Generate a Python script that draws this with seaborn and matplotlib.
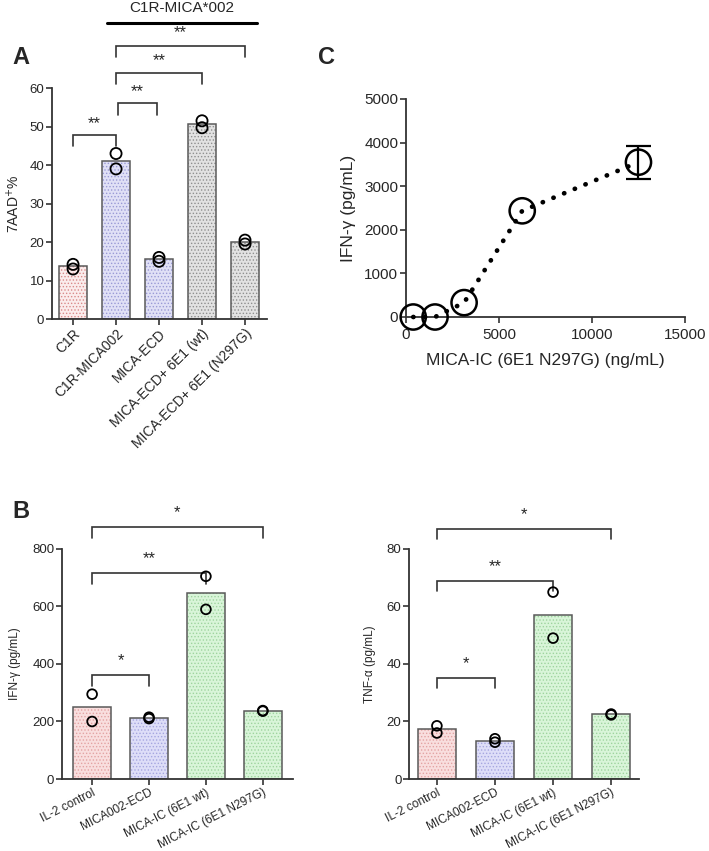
import matplotlib
matplotlib.use("Agg")
import matplotlib.pyplot as plt
import seaborn as sns
import pandas as pd
import numpy as np
from matplotlib.patches import Rectangle

sns.set_theme(style="ticks")
plt.rcParams['font.family'] = ['Liberation Sans', 'DejaVu Sans']
plt.rcParams['hatch.linewidth'] = 0.6

# ---------------- data ----------------
a_cats = ["C1R", "C1R-MICA002", "MICA-ECD", "MICA-ECD+ 6E1 (wt)", "MICA-ECD+ 6E1 (N297G)"]
a_means = [13.7, 41.0, 15.5, 50.6, 20.0]
a_pts1 = [13.0, 43.0, 15.0, 51.5, 19.5]
a_pts2 = [14.2, 39.0, 16.0, 49.7, 20.5]

b_cats = ["IL-2 control", "MICA002-ECD", "MICA-IC (6E1 wt)", "MICA-IC (6E1 N297G)"]
ifn_means = [250, 213, 648, 237]
ifn_pts1 = [295, 215, 705, 238]
ifn_pts2 = [200, 210, 590, 236]
tnf_means = [17.3, 13.3, 57.0, 22.5]
tnf_pts1 = [18.5, 14.0, 65.0, 22.6]
tnf_pts2 = [16.0, 12.8, 49.0, 22.3]

c_conc = [390.6, 1562.5, 3125, 6250, 12500]
c_ifn = [0, 0, 330, 2435, 3550]
c_err = [0, 0, 0, 0, 375]

a_face = ["#fbecec", "#e0e0f6", "#e0e0f6", "#e2e2e2", "#e2e2e2"]
a_hatch = ["#d98a8a", "#9a9ad6", "#9a9ad6", "#8f8f8f", "#8f8f8f"]
b_face = ["#f9dede", "#dedef8", "#d9f5d9", "#d9f5d9"]
b_hatch = ["#e3a3a3", "#a6a6e0", "#9fd49f", "#9fd49f"]

fig = plt.figure(figsize=(7.09, 8.51), dpi=100)


def style_bars(ax, faces, hatches):
    for p, fc, hc in zip(list(ax.patches), faces, hatches):
        p.set_facecolor(fc)
        p.set_edgecolor(hc)
        p.set_linewidth(0)
        p.set_hatch('.....')
        ax.add_patch(Rectangle((p.get_x(), p.get_y()), p.get_width(), p.get_height(),
                               fill=False, ec="#5a5a5a", lw=1.1, zorder=p.get_zorder() + 0.1))


def points(ax, cats, p1, p2, ms):
    df = pd.DataFrame({"cat": cats * 2, "v": p1 + p2})
    n0 = len(ax.collections)
    sns.stripplot(data=df, x="cat", y="v", order=cats, jitter=False, ax=ax,
                  size=ms, color="black", linewidth=1.3, edgecolor="black", zorder=5)
    for c in ax.collections[n0:]:
        c.set_facecolor("none")
        c.set_edgecolor("black")
        c.set_clip_on(False)


def bracket(ax, x1, x2, y, drop, text, tdy, fs=12):
    ax.plot([x1, x1, x2, x2], [y - drop, y, y, y - drop], color="#333333", lw=1.2,
            clip_on=False, solid_joinstyle="miter")
    ax.text((x1 + x2) / 2, y + tdy, text, ha="center", va="center", fontsize=fs, clip_on=False)


def axstyle(ax, fs):
    sns.despine(ax=ax)
    for s in ["left", "bottom"]:
        ax.spines[s].set_linewidth(1.3)
        ax.spines[s].set_color("#333333")
    ax.tick_params(axis="both", direction="out", length=4, width=1.2, color="#333333",
                   labelsize=fs, pad=1.5)
    ax.set_xlabel("")


# ---------------- Panel A ----------------
axA = fig.add_axes([0.0733, 0.6251, 0.3032, 0.2714])
dfa = pd.DataFrame({"cat": a_cats, "v": a_means})
sns.barplot(data=dfa, x="cat", y="v", order=a_cats, width=0.67, ax=axA, errorbar=None)
style_bars(axA, a_face, a_hatch)
points(axA, a_cats, a_pts1, a_pts2, 8)
axA.set_xlim(-0.49, 4.51)
axA.set_ylim(0, 60)
axA.set_yticks([0, 10, 20, 30, 40, 50, 60])
axstyle(axA, 9.5)
axA.set_ylabel("7AAD$^{+}$%", fontsize=10, labelpad=5)
axA.set_xticks(range(len(a_cats)))
axA.set_xticklabels(a_cats, rotation=45, ha="right", rotation_mode="anchor", fontsize=10)
bracket(axA, 0, 1, 47.8, 2.8, "**", 2.9)
bracket(axA, 1.05, 1.95, 56, 3, "**", 3.0)
bracket(axA, 1.0, 3.0, 64, 3, "**", 3.1)
bracket(axA, 1.0, 4.0, 71, 3, "**", 3.3)
axA.plot([0.79, 4.28], [77, 77], color="black", lw=2.2, clip_on=False)
axA.text(2.53, 80.8, "C1R-MICA*002", ha="center", va="center", fontsize=11, clip_on=False)

# ---------------- Panel C ----------------
axC = fig.add_axes([0.5726, 0.6275, 0.3935, 0.2562])
dfc = pd.DataFrame({"conc": c_conc, "ifn": c_ifn, "err": c_err})
sns.lineplot(data=dfc, x="conc", y="ifn", ax=axC, color="black", lw=3.4,
             linestyle=(0, (0.05, 2.4)), dash_capstyle="round", zorder=3)
axC.errorbar(dfc["conc"][dfc["err"] > 0], dfc["ifn"][dfc["err"] > 0],
             yerr=dfc["err"][dfc["err"] > 0], fmt="none", ecolor="black",
             elinewidth=1.6, capsize=9, capthick=1.6, zorder=4)
sns.scatterplot(data=dfc, x="conc", y="ifn", ax=axC, s=330, marker="o",
                facecolor="none", edgecolor="black", linewidth=1.8, zorder=5, clip_on=False)
for c in axC.collections:
    c.set_clip_on(False)
for l in axC.lines:
    l.set_clip_on(False)
axC.set_xlim(0, 15000)
axC.set_ylim(0, 5000)
axC.set_xticks([0, 5000, 10000, 15000])
axC.set_yticks([0, 1000, 2000, 3000, 4000, 5000])
axstyle(axC, 11)
axC.tick_params(axis="x", pad=4)
axC.set_xlabel("MICA-IC (6E1 N297G) (ng/mL)", fontsize=12.5, labelpad=8)
axC.set_ylabel("IFN-γ (pg/mL)", fontsize=12.5, labelpad=6)

# ---------------- Panel B ----------------
def panelB(rect, means, p1, p2, ylim, yticks, ylabel, brackets):
    ax = fig.add_axes(rect)
    df = pd.DataFrame({"cat": b_cats, "v": means})
    sns.barplot(data=df, x="cat", y="v", order=b_cats, width=0.66, ax=ax, errorbar=None)
    style_bars(ax, b_face, b_hatch)
    points(ax, b_cats, p1, p2, 7)
    ax.set_ylim(*ylim)
    ax.set_yticks(yticks)
    axstyle(ax, 9.5)
    ax.set_ylabel(ylabel, fontsize=8.5, labelpad=8)
    ax.set_xticks(range(len(b_cats)))
    ax.set_xticklabels(b_cats, rotation=27, ha="right", rotation_mode="anchor", fontsize=8.6)
    for b in brackets:
        bracket(ax, *b)
    return ax

axB1 = panelB([0.0874, 0.0846, 0.3258, 0.2703], ifn_means, ifn_pts1, ifn_pts2,
              (0, 800), [0, 200, 400, 600, 800], "IFN-γ (pg/mL)",
              [(0, 1, 362, 37, "*", 50), (0, 2, 716, 37, "**", 50), (0, 3, 876, 37, "*", 50)])
axB1.set_xlim(-0.53, 3.53)
axB2 = panelB([0.5769, 0.0846, 0.3244, 0.2703], tnf_means, tnf_pts1, tnf_pts2,
              (0, 80), [0, 20, 40, 60, 80], "TNF-α (pg/mL)",
              [(0, 1, 35, 3.5, "*", 5), (0, 2, 69, 3.5, "**", 5), (0, 3, 87, 3.5, "*", 5)])
axB2.set_xlim(-0.48, 3.48)

# panel letters
fig.text(12 / 709, 1 - 58 / 851, "A", fontsize=17, fontweight="bold", va="center")
fig.text(318 / 709, 1 - 58 / 851, "C", fontsize=17, fontweight="bold", va="center")
fig.text(12 / 709, 1 - 512 / 851, "B", fontsize=17, fontweight="bold", va="center")

fig.savefig("out.png", dpi=100)
